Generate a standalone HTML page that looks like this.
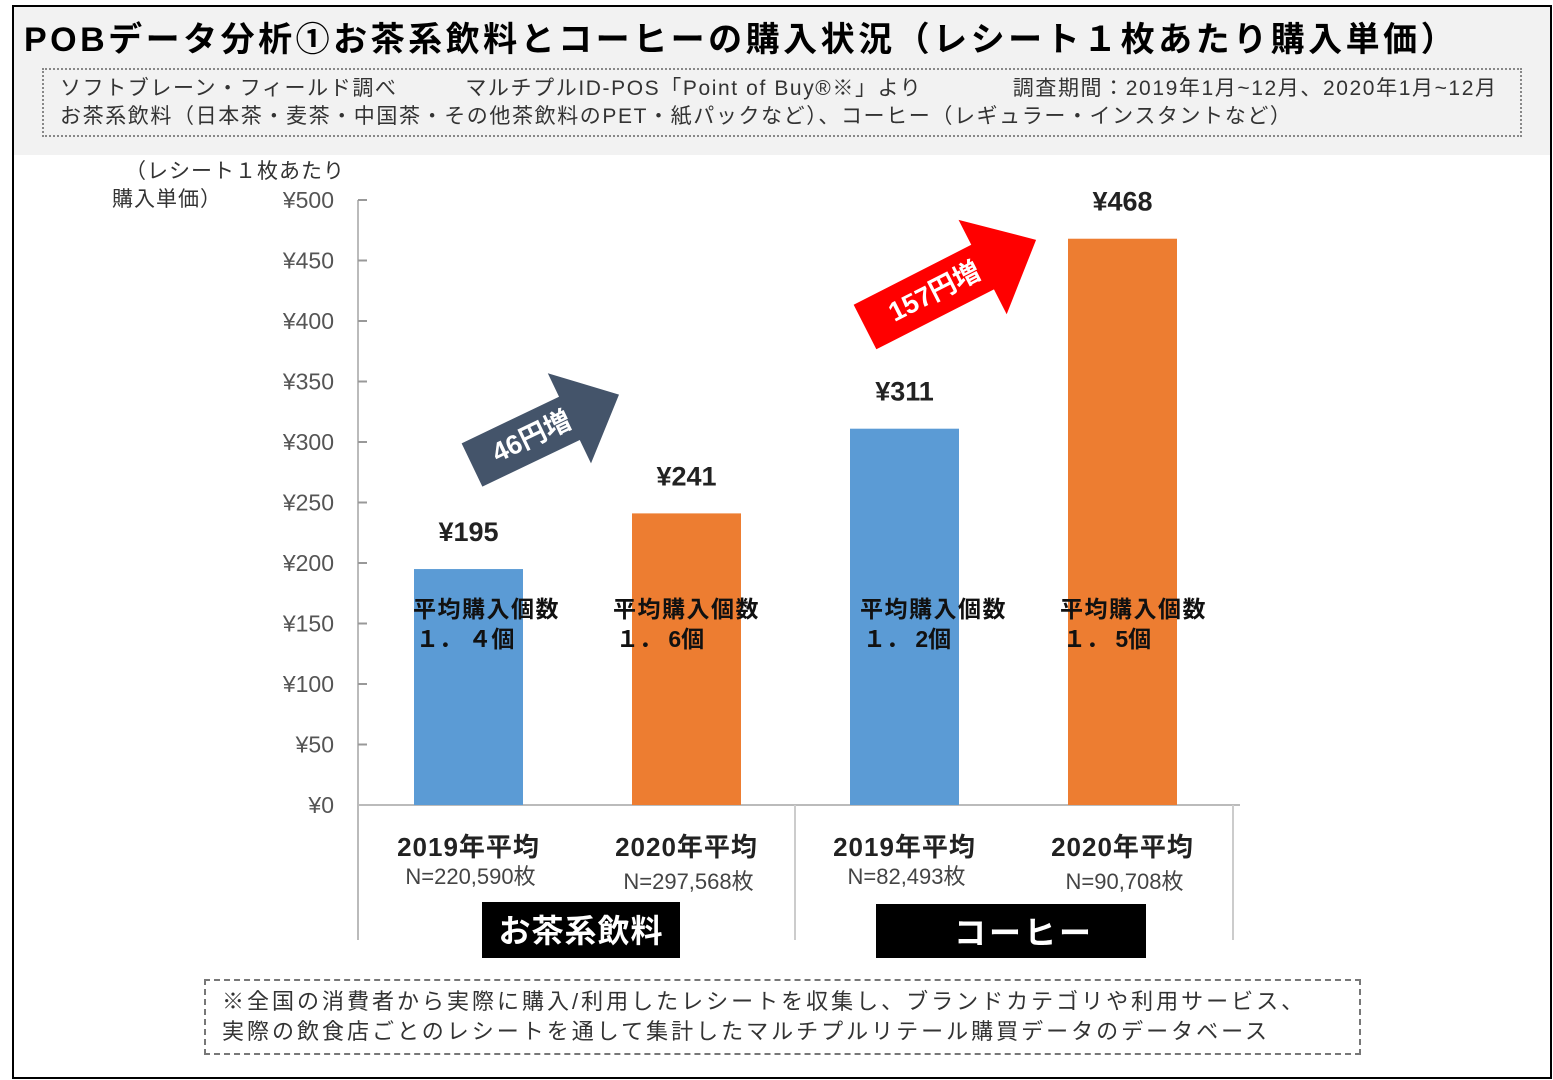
<!DOCTYPE html>
<html><head><meta charset="utf-8">
<style>
body{margin:0;width:1553px;height:1080px;background:#fff;font-family:"Liberation Sans","Noto Sans CJK JP",sans-serif;position:relative;overflow:hidden}
.frame{position:absolute;left:12px;top:5px;width:1536px;height:1070px;border:2px solid #000}
.head{position:absolute;left:14px;top:7px;width:1536px;height:148px;background:#f2f2f2}
.title{position:absolute;left:24px;top:12px;font-size:34px;font-weight:bold;color:#000;white-space:nowrap;letter-spacing:3.5px}
.info{position:absolute;left:42px;top:68px;width:1480px;height:69px;border:2px dotted #888;font-size:21px;color:#333;line-height:28px;padding:5px 0 0 16px;box-sizing:border-box;white-space:pre;letter-spacing:1.6px}
.note{position:absolute;left:204px;top:979px;width:1157px;height:76px;border:2px dashed #777;font-size:22px;color:#333;line-height:30px;padding:6px 0 0 16px;box-sizing:border-box;letter-spacing:3px}
svg text{font-family:"Liberation Sans","Noto Sans CJK JP",sans-serif}
</style></head><body>
<div class="head"></div>
<div class="frame"></div>
<div class="title">POBデータ分析①お茶系飲料とコーヒーの購入状況（レシート１枚あたり購入単価）</div>
<div class="info">ソフトブレーン・フィールド調べ　　　マルチプルID-POS「Point of Buy®※」より　　　　調査期間：2019年1月~12月、2020年1月~12月
お茶系飲料（日本茶・麦茶・中国茶・その他茶飲料のPET・紙パックなど）、コーヒー（レギュラー・インスタントなど）</div>
<div class="note">※全国の消費者から実際に購入/利用したレシートを収集し、ブランドカテゴリや利用サービス、<br>実際の飲食店ごとのレシートを通して集計したマルチプルリテール購買データのデータベース</div>
<svg id="chart" width="1553" height="1080" style="position:absolute;left:0;top:0"></svg>
<script>
const values=[195,241,311,468];
const labels=["¥195","¥241","¥311","¥468"];
const years=["2019年平均","2020年平均","2019年平均","2020年平均"];
const counts=["N=220,590枚","N=297,568枚","N=82,493枚","N=90,708枚"];
const qty=["１． ４個","１． 6個","１． 2個","１． 5個"];
const colors=["#5b9bd5","#ed7d31","#5b9bd5","#ed7d31"];
const ticks=[0,50,100,150,200,250,300,350,400,450,500];
const groups=["お茶系飲料","コーヒー"];
const NS="http://www.w3.org/2000/svg";
const svg=document.getElementById('chart');
const y=v=>805-v*605/500;
const bx=i=>414+i*218;
const qx=[413,613,860,1060];
function el(t,a,txt){const e=document.createElementNS(NS,t);for(const k in a)e.setAttribute(k,a[k]);if(txt!==undefined)e.textContent=txt;svg.appendChild(e);return e;}
let e;
e=el('text',{x:125,y:178,'font-size':21,fill:'#333','letter-spacing':1},'（レシート１枚あたり');


e=el('text',{x:112,y:206,'font-size':21,fill:'#333','letter-spacing':1},'購入単価）');


e=el('line',{x1:358,y1:200,x2:358,y2:940,stroke:'#bbb','stroke-width':2});


ticks.forEach(t=>{
 e=el('line',{x1:358,y1:y(t),x2:367,y2:y(t),stroke:'#999','stroke-width':2});
 
 
 e=el('text',{x:334,y:y(t)+8,'font-size':23,fill:'#555','text-anchor':'end'},'¥'+t);
 
 
});
e=el('line',{x1:358,y1:805,x2:1240,y2:805,stroke:'#bbb','stroke-width':2});


[795,1233].forEach(xx=>{
 e=el('line',{x1:xx,y1:805,x2:xx,y2:940,stroke:'#ccc','stroke-width':2});
 
 
});
values.forEach((v,i)=>{
 const x=bx(i),cx=x+54.5;
 e=el('rect',{x:x,y:y(v),width:109,height:805-y(v),fill:colors[i]});
 
 
 e=el('text',{x:cx,y:y(v)-28,'font-size':27,'font-weight':'bold',fill:'#222','text-anchor':'middle'},labels[i]);
 
 
 e=el('text',{x:qx[i],y:617,'font-size':23,'font-weight':'bold',fill:'#111','letter-spacing':1.5},'平均購入個数');
 
 
 e=el('text',{x:qx[i]+3,y:647,'font-size':23,'font-weight':'bold',fill:'#111','xml:space':'preserve'},qty[i]);
 
 
 e=el('text',{x:cx,y:856,'font-size':26,'font-weight':'bold',fill:'#222','text-anchor':'middle','letter-spacing':1},years[i]);
 
 
 e=el('text',{x:cx+2,y:i%2?889:884,'font-size':22,fill:'#444','text-anchor':'middle'},counts[i]);
 
 
});
[[482,902,198,56,581],[876,904,270,54,1024]].forEach((g,i)=>{
 e=el('rect',{x:g[0],y:g[1],width:g[2],height:g[3],fill:'#000'});
 
 
 e=el('text',{x:g[4],y:g[1]+40,'font-size':32,'font-weight':'bold',fill:'#fff','text-anchor':'middle','letter-spacing':i?3:1},groups[i]);
 
 
});
function arrow(x0,y0,ang,L,w,H,h,fill,txt,name){
 const g=document.createElementNS(NS,'g');
 g.setAttribute('transform',`translate(${x0},${y0}) rotate(${ang})`);
 
 
 const p=document.createElementNS(NS,'polygon');
 p.setAttribute('points',`0,${-w/2} ${L-h},${-w/2} ${L-h},${-H/2} ${L},0 ${L-h},${H/2} ${L-h},${w/2} 0,${w/2}`);
 p.setAttribute('fill',fill);
 g.appendChild(p);
 const t=document.createElementNS(NS,'text');
 t.setAttribute('x',(L-h)/2+12);t.setAttribute('y',9);t.setAttribute('text-anchor','middle');
 t.setAttribute('font-size',27);t.setAttribute('font-weight','bold');t.setAttribute('fill','#fff');
 t.textContent=txt;g.appendChild(t);
 svg.appendChild(g);
}
arrow(472,465,-25.6,163,48,100,55,'#44546a','46円増','arrow-tea');
arrow(865,327,-27,192,50,106,60,'#ff0000','157円増','arrow-coffee');
</script>
</body></html>
